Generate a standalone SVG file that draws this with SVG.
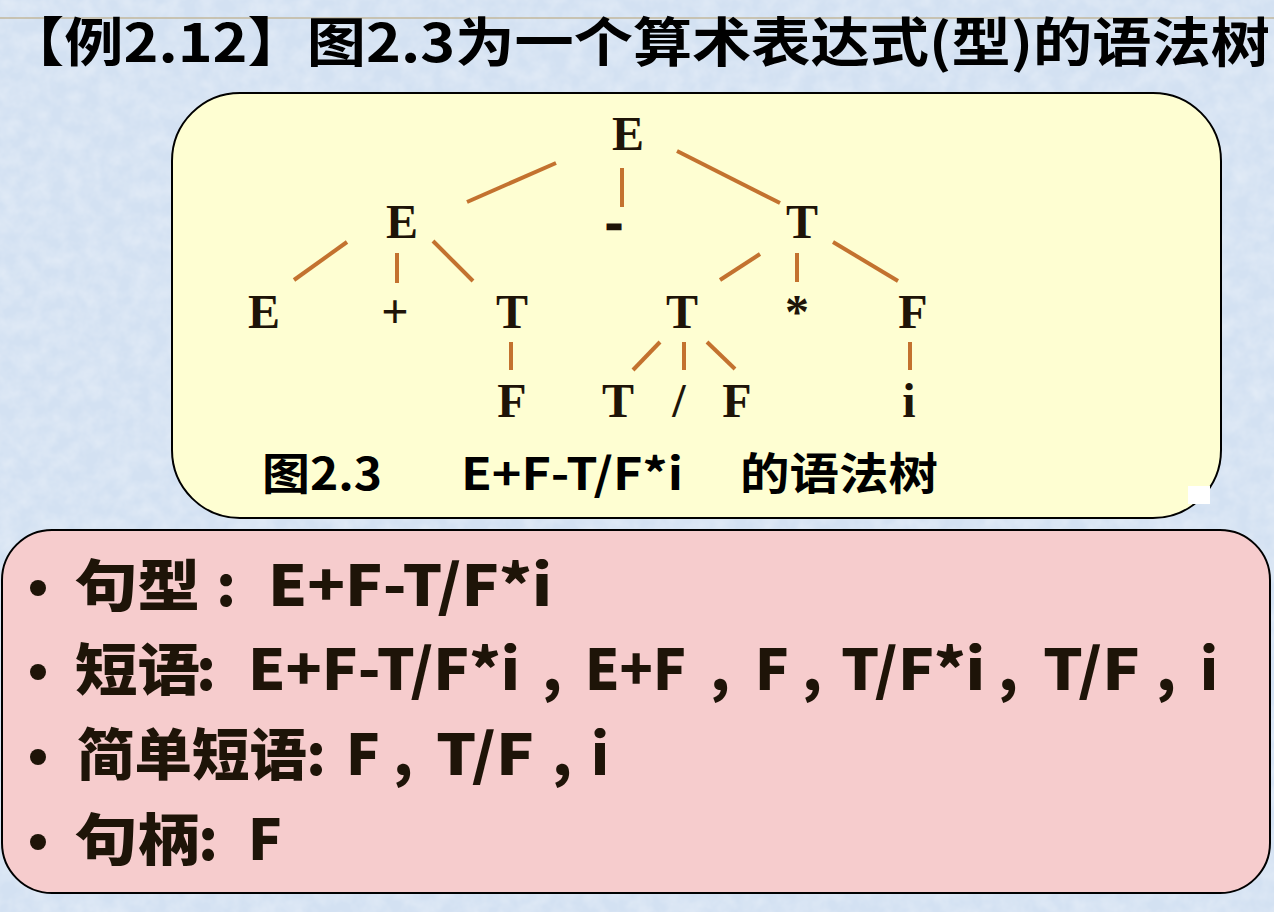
<svg xmlns="http://www.w3.org/2000/svg" width="1274" height="912" viewBox="0 0 1274 912">
<defs>
<style>
.cjk{font-family:"Noto Sans CJK SC","Noto Sans",sans-serif;font-weight:700;fill:#000}
.bl{font-family:"Noto Sans CJK SC","Noto Sans",sans-serif;font-weight:900;font-size:56px;fill:#1e1408}
.nd{font-family:"Liberation Serif","Times New Roman",serif;font-weight:700;font-size:48px;fill:#1e1408;text-anchor:middle}
.cap{font-family:"Noto Sans CJK SC","Noto Sans",sans-serif;font-weight:700;font-size:44px;fill:#000}
.edge{stroke:#c3722f;stroke-width:4;fill:none}
.bul{fill:#1e1408}
</style>
<filter id="tex" x="0" y="0" width="100%" height="100%">
<feTurbulence type="fractalNoise" baseFrequency="0.06" numOctaves="3" seed="5"/>
<feColorMatrix values="0 0 0 0 1  0 0 0 0 1  0 0 0 0 1  0.5 0 0 0 -0.15"/>
</filter>
</defs>
<rect x="0" y="0" width="1274" height="912" fill="#d3e1f2"/>
<rect x="0" y="0" width="1274" height="912" filter="url(#tex)"/>
<line x1="0" y1="18" x2="1274" y2="18" stroke="#c2b79c" stroke-width="1.5"/>

<g id="title">
<text class="cjk" x="5" y="62" font-size="53" textLength="1265" lengthAdjust="spacingAndGlyphs">【例2.12】图2.3为一个算术表达式(型)的语法树</text>
</g>

<g id="tree-box">
<rect x="172" y="93" width="1049" height="425" rx="68" ry="68" fill="#fefed2" stroke="#000" stroke-width="2"/>
<rect x="1188" y="486" width="22" height="18" fill="#ffffff"/>
</g>

<g id="connectors">
<line class="edge" x1="556" y1="163" x2="467" y2="202"/>
<line class="edge" x1="622" y1="168" x2="622" y2="207"/>
<line class="edge" x1="677" y1="151" x2="780" y2="203"/>
<line class="edge" x1="347" y1="242" x2="294" y2="280"/>
<line class="edge" x1="397" y1="253" x2="397" y2="283"/>
<line class="edge" x1="433" y1="241" x2="473" y2="281"/>
<line class="edge" x1="760" y1="254" x2="720" y2="280"/>
<line class="edge" x1="797" y1="253" x2="797" y2="282"/>
<line class="edge" x1="833" y1="242" x2="898" y2="281"/>
<line class="edge" x1="511" y1="342" x2="511" y2="370"/>
<line class="edge" x1="660" y1="342" x2="633" y2="370"/>
<line class="edge" x1="684" y1="342" x2="684" y2="370"/>
<line class="edge" x1="707" y1="342" x2="735" y2="369"/>
<line class="edge" x1="910" y1="342" x2="910" y2="370"/>
</g>

<g id="n0"><text class="nd" x="628" y="150">E</text></g>
<g id="n1"><text class="nd" x="402" y="238">E</text></g>
<g id="n2"><text class="nd" x="614" y="238" stroke="#1e1408" stroke-width="2.5">-</text></g>
<g id="n3"><text class="nd" x="802" y="238">T</text></g>
<g id="n4"><text class="nd" x="264" y="328">E</text></g>
<g id="n5"><text class="nd" x="395" y="328">+</text></g>
<g id="n6"><text class="nd" x="512" y="328">T</text></g>
<g id="n7"><text class="nd" x="682" y="328">T</text></g>
<g id="n8"><text class="nd" x="797" y="328">*</text></g>
<g id="n9"><text class="nd" x="913" y="328">F</text></g>
<g id="n10"><text class="nd" x="512" y="417">F</text></g>
<g id="n11"><text class="nd" x="618" y="417">T</text></g>
<g id="n12"><text class="nd" x="679" y="417">/</text></g>
<g id="n13"><text class="nd" x="737" y="417">F</text></g>
<g id="n14"><text class="nd" x="909" y="417">i</text></g>

<g id="caption">
<text class="cap" x="262" y="490" textLength="120" lengthAdjust="spacingAndGlyphs">图2.3</text>
<text class="cap" x="461" y="490" textLength="222" lengthAdjust="spacingAndGlyphs">E+F-T/F*i</text>
<text class="cap" x="740" y="490" textLength="198" lengthAdjust="spacingAndGlyphs">的语法树</text>
</g>

<g id="list-box">
<rect x="2" y="530" width="1268" height="363" rx="50" ry="50" fill="#f6cccd" stroke="#000" stroke-width="2"/>
</g>

<g id="item1">
<circle class="bul" cx="38" cy="588" r="8"/>
<text class="bl" x="75" y="606" textLength="125" lengthAdjust="spacingAndGlyphs">句型</text>
<text class="bl" x="226" y="606" text-anchor="middle">:</text>
<text class="bl" x="268" y="606" textLength="284" lengthAdjust="spacingAndGlyphs">E+F-T/F*i</text>
</g>

<g id="item2">
<circle class="bul" cx="38" cy="672" r="8"/>
<text class="bl" x="75" y="690" textLength="125" lengthAdjust="spacingAndGlyphs">短语</text>
<text class="bl" x="206" y="690" text-anchor="middle">:</text>
<text class="bl" x="248" y="690" textLength="272" lengthAdjust="spacingAndGlyphs">E+F-T/F*i</text>
<text class="bl" x="552" y="690" text-anchor="middle">,</text>
<text class="bl" x="585" y="690" textLength="101" lengthAdjust="spacingAndGlyphs">E+F</text>
<text class="bl" x="720" y="690" text-anchor="middle">,</text>
<text class="bl" x="755" y="690">F</text>
<text class="bl" x="812" y="690" text-anchor="middle">,</text>
<text class="bl" x="841" y="690" textLength="144" lengthAdjust="spacingAndGlyphs">T/F*i</text>
<text class="bl" x="1008" y="690" text-anchor="middle">,</text>
<text class="bl" x="1043" y="690" textLength="97" lengthAdjust="spacingAndGlyphs">T/F</text>
<text class="bl" x="1166" y="690" text-anchor="middle">,</text>
<text class="bl" x="1200" y="690">i</text>
</g>

<g id="item3">
<circle class="bul" cx="38" cy="757" r="8"/>
<text class="bl" x="77" y="775" textLength="230" lengthAdjust="spacingAndGlyphs">简单短语</text>
<text class="bl" x="316" y="775" text-anchor="middle">:</text>
<text class="bl" x="346" y="775">F</text>
<text class="bl" x="403" y="775" text-anchor="middle">,</text>
<text class="bl" x="436" y="775" textLength="98" lengthAdjust="spacingAndGlyphs">T/F</text>
<text class="bl" x="562" y="775" text-anchor="middle">,</text>
<text class="bl" x="591" y="775">i</text>
</g>

<g id="item4">
<circle class="bul" cx="38" cy="842" r="8"/>
<text class="bl" x="75" y="860" textLength="125" lengthAdjust="spacingAndGlyphs">句柄</text>
<text class="bl" x="208" y="860" text-anchor="middle">:</text>
<text class="bl" x="248" y="860">F</text>
</g>
</svg>
